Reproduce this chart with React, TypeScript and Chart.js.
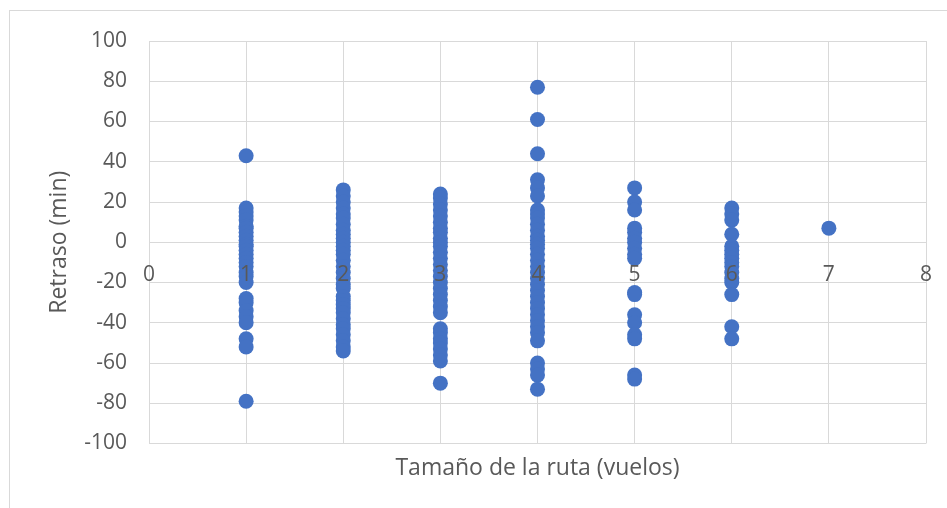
import React, { useEffect, useRef } from "react";
import { Chart, registerables } from "chart.js";

Chart.register(...registerables);

// Delay (min) of each flight, grouped by route size (number of flights)
const routeSizes = [1, 2, 3, 4, 5, 6, 7];

const delays1 = [43, 17, 15, 13, 11, 8, 7, 5, 3, 1, -1, -2, -4, -6, -8, -10, -12, -15, -17, -20, -28, -30, -34, -37, -40, -48, -52, -79];
const delays2 = [26, 23, 20, 17, 14, 12, 9, 6, 4, 2, 0, -2, -4, -6, -9, -12, -15, -18, -21, -23, -27, -29, -31, -33, -35, -38, -41, -43, -46, -49, -52, -54];
const delays3 = [24, 22, 19, 16, 13, 10, 7, 5, 2, 0, -2, -5, -8, -11, -14, -17, -20, -23, -26, -29, -32, -35, -43, -45, -48, -50, -53, -56, -59, -70];
const delays4 = [77, 61, 44, 31, 27, 23, 16, 14, 12, 9, 6, 3, 1, -1, -3, -6, -9, -12, -15, -18, -21, -24, -27, -30, -33, -36, -39, -42, -45, -49, -60, -63, -66, -73];
const delays5 = [27, 20, 16, 7, 5, 2, 0, -3, -6, -8, -25, -26, -36, -40, -46, -48, -66, -68];
const delays6 = [17, 14, 11, 4, -2, -4, -6, -8, -10, -12, -15, -18, -20, -26, -42, -48];
const delays7 = [7];

const delaysBySize = [delays1, delays2, delays3, delays4, delays5, delays6, delays7];

const xTicks = [0, 1, 2, 3, 4, 5, 6, 7, 8];
const yTicks = [-100, -80, -60, -40, -20, 0, 20, 40, 60, 80, 100];

const FONT = "'Open Sans', 'Liberation Sans', sans-serif";
const TEXT = "#595959";
const GRID = "#d9d9d9";
const MARK = "#4472C4";

const TICK_SIZE = 21;
const TITLE_SIZE = 23;

export default function App() {
  const canvasRef = useRef<HTMLCanvasElement | null>(null);

  useEffect(() => {
    const canvas = canvasRef.current;
    if (!canvas) return;

    const points = routeSizes.flatMap((size, i) =>
      delaysBySize[i].map((d) => ({ x: size, y: d }))
    );

    const xMin = xTicks[0];
    const xMax = xTicks[xTicks.length - 1];

    const chart = new Chart(canvas, {
      type: "scatter",
      data: {
        datasets: [
          {
            data: points,
            xAxisID: "x",
            yAxisID: "y",
            backgroundColor: MARK,
            borderColor: MARK,
            borderWidth: 0,
            pointRadius: 7.5,
            pointHoverRadius: 7.5,
          },
        ],
      },
      options: {
        animation: false,
        responsive: false,
        maintainAspectRatio: false,
        layout: { padding: { top: 41, right: 21, left: 0, bottom: 0 } },
        plugins: {
          legend: { display: false },
          tooltip: { enabled: false },
        },
        scales: {
          // horizontal axis crossing at y = 0; its numbers sit above the markers
          x: {
            type: "linear",
            position: { y: 0 },
            min: xMin,
            max: xMax,
            afterBuildTicks: (scale) => {
              scale.ticks = xTicks.map((v) => ({ value: v }));
            },
            afterFit: (scale: any) => {
              // the end labels may overhang the plot area
              scale.paddingLeft = 0;
              scale.paddingRight = 0;
            },
            grid: { color: GRID, lineWidth: 1, drawTicks: false },
            border: { color: GRID, width: 1 },
            ticks: {
              z: 1,
              color: TEXT,
              font: { family: FONT, size: TICK_SIZE },
              padding: 20,
              maxRotation: 0,
            },
          },
          // axis title below the plot area
          xTitle: {
            type: "linear",
            position: "bottom",
            min: xMin,
            max: xMax,
            grid: { display: false, drawTicks: false },
            border: { display: false },
            ticks: { display: false },
            title: {
              display: true,
              text: "Tamaño de la ruta (vuelos)",
              color: TEXT,
              font: { family: FONT, size: TITLE_SIZE },
              padding: { top: 10.7, bottom: 26.2 },
            },
          },
          y: {
            type: "linear",
            min: yTicks[0],
            max: yTicks[yTicks.length - 1],
            afterBuildTicks: (scale) => {
              scale.ticks = yTicks.map((v) => ({ value: v }));
            },
            afterFit: (scale) => {
              scale.width = 149;
            },
            grid: { color: GRID, lineWidth: 1, drawTicks: false },
            border: { color: GRID, width: 1 },
            ticks: {
              color: TEXT,
              font: { family: FONT, size: TICK_SIZE },
              padding: 22,
            },
            title: {
              display: true,
              text: "Retraso (min)",
              color: TEXT,
              font: { family: FONT, size: TITLE_SIZE },
              padding: { top: 46, bottom: 0 },
            },
          },
        },
      },
    });

    return () => chart.destroy();
  }, []);

  return (
    <div style={{ position: "fixed", left: 0, top: 0, width: 947, height: 508, background: "#fff" }}>
      <div
        style={{
          position: "fixed",
          left: 9,
          top: 10,
          right: 0,
          bottom: 0,
          borderTop: `1px solid ${GRID}`,
          borderLeft: `1px solid ${GRID}`,
        }}
      />
      <canvas
        ref={canvasRef}
        width={947}
        height={508}
        style={{ position: "absolute", left: 0, top: 0, width: 947, height: 508 }}
      />
    </div>
  );
}
